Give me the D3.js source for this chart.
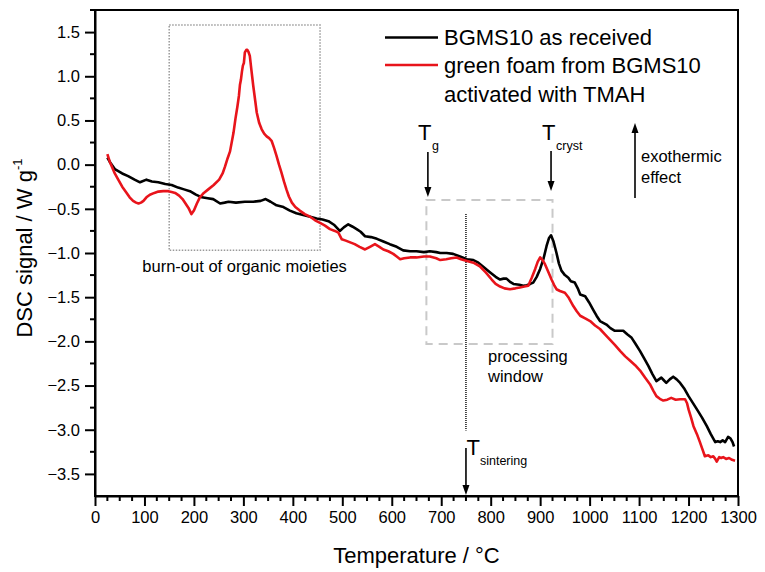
<!DOCTYPE html>
<html>
<head>
<meta charset="utf-8">
<script src="https://cdn.jsdelivr.net/npm/d3@7"></script>
<style>
  html, body { margin: 0; padding: 0; background: #fff; }
  svg { display: block; }
  text { font-family: "Liberation Sans", Arial, Helvetica, sans-serif; fill: #000; }
</style>
</head>
<body>
<svg id="chart" width="765" height="572"></svg>
<script>
// ---------------- data ----------------
const xTicks = [0,100,200,300,400,500,600,700,800,900,1000,1100,1200,1300];
const yTicks = [-3.5,-3.0,-2.5,-2.0,-1.5,-1.0,-0.5,0.0,0.5,1.0,1.5];
const seriesNames = ["BGMS10 as received", "green foam from BGMS10", "activated with TMAH"];

const blackT = [25,30,40,55,67,80,91,104,115,128,142,155,168,180,192,204,216,228,239,253,262,270,285,303,320,335,345,355,367,381,394,407,421,435,448,460,472,483,495,503,512,520,529,537,546,558,570,583,596,610,623,637,650,665,677,690,698,711,724,738,752,765,775,788,799,810,819,826,832,840,846,858,866,873,880,886,893,900,907,913,918,922,927,933,938,943,950,957,962,970,976,981,991,999,1007,1014,1021,1034,1042,1051,1060,1068,1076,1085,1093,1102,1110,1119,1127,1135,1140,1145,1150,1155,1162,1169,1176,1183,1192,1200,1208,1217,1227,1237,1245,1254,1259,1264,1269,1274,1280,1285,1289,1292];
const blackV = [0.08,0.03,-0.05,-0.10,-0.13,-0.17,-0.20,-0.17,-0.19,-0.20,-0.22,-0.23,-0.26,-0.28,-0.30,-0.34,-0.37,-0.38,-0.39,-0.44,-0.43,-0.42,-0.43,-0.42,-0.42,-0.41,-0.39,-0.42,-0.46,-0.48,-0.52,-0.55,-0.57,-0.59,-0.61,-0.62,-0.64,-0.68,-0.75,-0.71,-0.675,-0.70,-0.73,-0.76,-0.81,-0.82,-0.84,-0.87,-0.90,-0.93,-0.97,-0.98,-0.98,-0.99,-0.98,-0.99,-1.00,-1.00,-1.01,-1.04,-1.07,-1.08,-1.11,-1.17,-1.22,-1.27,-1.30,-1.29,-1.29,-1.33,-1.35,-1.36,-1.37,-1.365,-1.35,-1.335,-1.27,-1.18,-1.06,-0.92,-0.83,-0.80,-0.87,-1.00,-1.12,-1.20,-1.25,-1.28,-1.32,-1.335,-1.40,-1.47,-1.49,-1.56,-1.64,-1.71,-1.77,-1.81,-1.85,-1.88,-1.88,-1.88,-1.92,-1.96,-2.03,-2.11,-2.19,-2.28,-2.37,-2.45,-2.43,-2.41,-2.44,-2.47,-2.43,-2.40,-2.43,-2.47,-2.54,-2.62,-2.69,-2.77,-2.86,-2.96,-3.05,-3.14,-3.13,-3.14,-3.12,-3.14,-3.08,-3.10,-3.14,-3.19];

const redT = [25,30,34,40,47,55,64,70,77,83,88,93,98,104,111,120,128,138,148,155,162,170,177,183,189,195,200,206,212,220,229,240,251,258,263,268,273,280,284,288,291,293,295,297,299,301,303,306,308,310,313,316,320,324,327,332,337,342,347,352,357,362,367,372,377,382,387,392,398,405,414,424,435,445,455,465,475,485,492,499,507,516,525,535,546,556,566,575,583,593,603,610,617,625,637,650,665,677,690,698,710,720,731,740,752,765,778,790,802,810,819,828,839,850,859,868,876,883,890,895,900,905,910,917,923,928,933,940,950,957,967,974,981,991,1001,1011,1021,1031,1041,1051,1062,1072,1082,1092,1102,1112,1122,1129,1135,1142,1149,1157,1165,1174,1183,1193,1197,1200,1205,1210,1217,1223,1228,1233,1240,1245,1250,1254,1257,1262,1266,1270,1276,1282,1288,1294];
const redV = [0.12,0.03,-0.02,-0.10,-0.17,-0.25,-0.32,-0.37,-0.41,-0.43,-0.44,-0.43,-0.41,-0.37,-0.34,-0.32,-0.305,-0.30,-0.30,-0.31,-0.32,-0.35,-0.39,-0.44,-0.49,-0.56,-0.52,-0.44,-0.37,-0.32,-0.28,-0.23,-0.17,-0.10,-0.02,0.07,0.15,0.36,0.52,0.66,0.78,0.90,0.96,1.05,1.12,1.15,1.27,1.30,1.30,1.28,1.23,1.08,0.89,0.72,0.59,0.47,0.40,0.35,0.32,0.30,0.27,0.19,0.10,0.00,-0.09,-0.19,-0.28,-0.36,-0.43,-0.48,-0.52,-0.56,-0.59,-0.63,-0.66,-0.69,-0.73,-0.75,-0.77,-0.845,-0.86,-0.88,-0.90,-0.93,-0.96,-0.93,-0.90,-0.93,-0.96,-0.98,-1.01,-1.04,-1.07,-1.06,-1.05,-1.05,-1.04,-1.04,-1.06,-1.08,-1.07,-1.06,-1.05,-1.07,-1.09,-1.11,-1.15,-1.22,-1.30,-1.35,-1.38,-1.40,-1.41,-1.40,-1.39,-1.38,-1.37,-1.28,-1.18,-1.10,-1.05,-1.08,-1.13,-1.22,-1.30,-1.36,-1.41,-1.43,-1.45,-1.50,-1.60,-1.66,-1.71,-1.74,-1.77,-1.82,-1.86,-1.92,-1.98,-2.04,-2.11,-2.17,-2.22,-2.27,-2.33,-2.41,-2.485,-2.56,-2.62,-2.65,-2.67,-2.66,-2.64,-2.66,-2.655,-2.655,-2.70,-2.77,-2.86,-2.96,-3.05,-3.14,-3.22,-3.30,-3.29,-3.31,-3.30,-3.33,-3.36,-3.31,-3.32,-3.31,-3.33,-3.32,-3.34,-3.35];

// annotation anchors (data units)
const burnBox = {t0: 150, t1: 455, v0: 1.58, v1: -0.97};
const procBox = {t0: 670, t1: 925, v0: -0.40, v1: -2.03};
const tSinter = 750, tG = 671, tCryst = 922;

// ---------------- layout ----------------
const svg = d3.select("#chart");
const L = 95, R = 738, T = 10, B = 496;
const x = d3.scaleLinear().domain([0, 1300]).range([L, R]);
const y = d3.scaleLinear().domain([-3.75, 1.75]).range([B, T]);
const RED = "#e8141b";

// annotation boxes (behind curves)
svg.append("rect")
  .attr("x", x(burnBox.t0)).attr("y", y(burnBox.v0))
  .attr("width", x(burnBox.t1) - x(burnBox.t0)).attr("height", y(burnBox.v1) - y(burnBox.v0))
  .attr("fill", "none").attr("stroke", "#9a9a9a").attr("stroke-width", 1.5)
  .attr("stroke-dasharray", "1.5,1.5");
svg.append("rect")
  .attr("x", x(procBox.t0)).attr("y", y(procBox.v0))
  .attr("width", x(procBox.t1) - x(procBox.t0)).attr("height", y(procBox.v1) - y(procBox.v0))
  .attr("fill", "none").attr("stroke", "#c9c9c9").attr("stroke-width", 2)
  .attr("stroke-dasharray", "9,6");

// sintering dotted line
svg.append("line")
  .attr("x1", x(tSinter)).attr("x2", x(tSinter))
  .attr("y1", y(-0.56)).attr("y2", y(-3.01))
  .attr("stroke", "#000").attr("stroke-width", 1.4).attr("stroke-dasharray", "1,1");

// curves
const line = d3.line().x(d => x(d[0])).y(d => y(d[1]));
const blackData = blackT.map((t, i) => [t, blackV[i]]);
const redData = redT.map((t, i) => [t, redV[i]]);
svg.append("path").datum(blackData).attr("d", line)
  .attr("fill", "none").attr("stroke", "#000").attr("stroke-width", 2.6).attr("stroke-linejoin", "round");
svg.append("path").datum(redData).attr("d", line)
  .attr("fill", "none").attr("stroke", RED).attr("stroke-width", 2.6).attr("stroke-linejoin", "round");

// frame
svg.append("rect").attr("x", L).attr("y", T).attr("width", R - L).attr("height", B - T)
  .attr("fill", "none").attr("stroke", "#000").attr("stroke-width", 2);

// axes
const fmt = d3.format(".1f");
const xAxis = d3.axisBottom(x).tickValues(xTicks).tickSize(10).tickSizeOuter(0).tickPadding(5).tickFormat(d3.format("d"));
const gx = svg.append("g").attr("transform", `translate(0,${B})`).call(xAxis);
const yAxis = d3.axisLeft(y).tickValues(yTicks).tickSize(10).tickSizeOuter(0).tickPadding(5).tickFormat(fmt);
const gy = svg.append("g").attr("transform", `translate(${L},0)`).call(yAxis);
[gx, gy].forEach(g => {
  g.select(".domain").attr("stroke-width", 2);
  g.selectAll(".tick line").attr("stroke-width", 2);
  g.selectAll(".tick text").style("font-size", "16.5px").style("font-family", "'Liberation Sans', Arial, sans-serif");
});
gx.selectAll(".tick text").attr("dy", "0.71em");
// minor ticks
const xMinor = d3.range(25, 1300, 25).filter(v => v % 100 !== 0);
svg.append("g").selectAll("line").data(xMinor).join("line")
  .attr("x1", d => x(d)).attr("x2", d => x(d)).attr("y1", B).attr("y2", B + 5)
  .attr("stroke", "#000").attr("stroke-width", 2);
const yMinor = d3.range(-3.75, 1.76, 0.25).filter(v => Math.abs(v * 2 - Math.round(v * 2)) > 0.01 && v > -3.7);
svg.append("g").selectAll("line").data(yMinor).join("line")
  .attr("x1", L - 5).attr("x2", L).attr("y1", d => y(d)).attr("y2", d => y(d))
  .attr("stroke", "#000").attr("stroke-width", 2);

// axis titles
svg.append("text").attr("x", (L + R) / 2).attr("y", 563).attr("text-anchor", "middle")
  .style("font-size", "22px").text("Temperature / °C");
const yt = svg.append("text").attr("transform", "translate(32,248) rotate(-90)")
  .attr("text-anchor", "middle").style("font-size", "22px");
yt.append("tspan").text("DSC signal / W g");
yt.append("tspan").attr("dy", -10).style("font-size", "13px").text("-1");

// legend
const legColors = ["#000", RED];
[0, 1].forEach(i => {
  const ly = i === 0 ? 37.5 : 65;
  svg.append("line").attr("x1", 385).attr("x2", 438).attr("y1", ly).attr("y2", ly)
    .attr("stroke", legColors[i]).attr("stroke-width", 2.6);
});
seriesNames.forEach((s, i) => {
  svg.append("text").attr("x", 444).attr("y", 45 + i * 28.3).style("font-size", "22px").text(s);
});

// arrows helper
function arrow(x0, y0, y1) {
  const dir = y1 > y0 ? 1 : -1;
  svg.append("line").attr("x1", x0).attr("x2", x0).attr("y1", y0).attr("y2", y1 - dir * 8)
    .attr("stroke", "#000").attr("stroke-width", 1.6);
  svg.append("path")
    .attr("d", `M${x0},${y1} L${x0 - 3.5},${y1 - dir * 10} L${x0 + 3.5},${y1 - dir * 10} Z`)
    .attr("fill", "#000");
}

// Tg
svg.append("text").attr("x", x(tG) - 9).attr("y", 140).style("font-size", "22px").text("T");
svg.append("text").attr("x", x(tG) + 5).attr("y", 150).style("font-size", "12.5px").text("g");
arrow(x(tG) + 1, 152, 197);
// Tcryst
svg.append("text").attr("x", x(tCryst) - 9).attr("y", 140).style("font-size", "22px").text("T");
svg.append("text").attr("x", x(tCryst) + 5).attr("y", 150).style("font-size", "12.5px").text("cryst");
arrow(x(tCryst), 151, 191);
// exothermic
arrow(635, 198, 123);
svg.append("text").attr("x", 641).attr("y", 162).style("font-size", "16.5px").text("exothermic");
svg.append("text").attr("x", 641).attr("y", 183).style("font-size", "16.5px").text("effect");
// T sintering
arrow(x(tSinter), 448, 495);
svg.append("text").attr("x", x(tSinter) + 0.5).attr("y", 455).style("font-size", "22px").text("T");
svg.append("text").attr("x", x(tSinter) + 14).attr("y", 465).style("font-size", "12.5px").text("sintering");

// labels
svg.append("text").attr("x", (x(burnBox.t0) + x(burnBox.t1)) / 2).attr("y", 272)
  .attr("text-anchor", "middle").style("font-size", "16.5px").text("burn-out of organic moieties");
svg.append("text").attr("x", 488).attr("y", 362).style("font-size", "16.5px").text("processing");
svg.append("text").attr("x", 488).attr("y", 382).style("font-size", "16.5px").text("window");
</script>
</body>
</html>
